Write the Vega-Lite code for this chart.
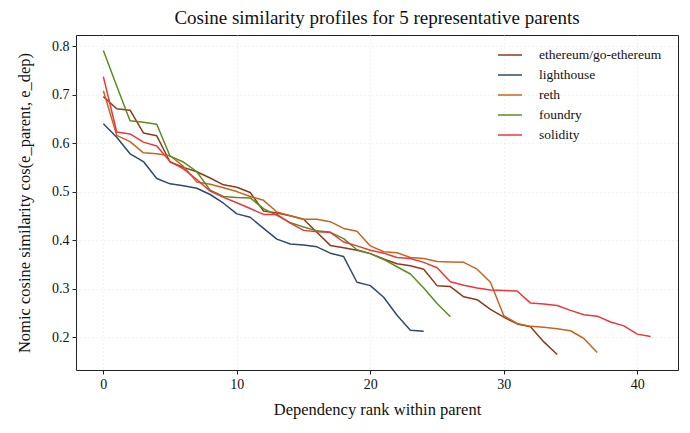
{
  "$schema": "https://vega.github.io/schema/vega-lite/v6.json",
  "width": 602,
  "height": 335,
  "autosize": "none",
  "padding": {"left": 76, "top": 35, "right": 12, "bottom": 63},
  "background": "white",
  "title": {
    "text": "Cosine similarity profiles for 5 representative parents",
    "font": "Liberation Serif",
    "fontSize": 19,
    "fontWeight": "normal",
    "color": "#111",
    "offset": 7
  },
  "datasets": {
    "profiles": [
      {"parent": "ethereum/go-ethereum", "rank": 0, "sim": 0.696},
      {"parent": "ethereum/go-ethereum", "rank": 1, "sim": 0.671},
      {"parent": "ethereum/go-ethereum", "rank": 2, "sim": 0.668},
      {"parent": "ethereum/go-ethereum", "rank": 3, "sim": 0.621},
      {"parent": "ethereum/go-ethereum", "rank": 4, "sim": 0.615},
      {"parent": "ethereum/go-ethereum", "rank": 5, "sim": 0.561},
      {"parent": "ethereum/go-ethereum", "rank": 6, "sim": 0.550},
      {"parent": "ethereum/go-ethereum", "rank": 7, "sim": 0.541},
      {"parent": "ethereum/go-ethereum", "rank": 8, "sim": 0.528},
      {"parent": "ethereum/go-ethereum", "rank": 9, "sim": 0.514},
      {"parent": "ethereum/go-ethereum", "rank": 10, "sim": 0.509},
      {"parent": "ethereum/go-ethereum", "rank": 11, "sim": 0.498},
      {"parent": "ethereum/go-ethereum", "rank": 12, "sim": 0.460},
      {"parent": "ethereum/go-ethereum", "rank": 13, "sim": 0.456},
      {"parent": "ethereum/go-ethereum", "rank": 14, "sim": 0.450},
      {"parent": "ethereum/go-ethereum", "rank": 15, "sim": 0.443},
      {"parent": "ethereum/go-ethereum", "rank": 16, "sim": 0.416},
      {"parent": "ethereum/go-ethereum", "rank": 17, "sim": 0.389},
      {"parent": "ethereum/go-ethereum", "rank": 18, "sim": 0.384},
      {"parent": "ethereum/go-ethereum", "rank": 19, "sim": 0.379},
      {"parent": "ethereum/go-ethereum", "rank": 20, "sim": 0.372},
      {"parent": "ethereum/go-ethereum", "rank": 21, "sim": 0.361},
      {"parent": "ethereum/go-ethereum", "rank": 22, "sim": 0.351},
      {"parent": "ethereum/go-ethereum", "rank": 23, "sim": 0.347},
      {"parent": "ethereum/go-ethereum", "rank": 24, "sim": 0.340},
      {"parent": "ethereum/go-ethereum", "rank": 25, "sim": 0.306},
      {"parent": "ethereum/go-ethereum", "rank": 26, "sim": 0.304},
      {"parent": "ethereum/go-ethereum", "rank": 27, "sim": 0.283},
      {"parent": "ethereum/go-ethereum", "rank": 28, "sim": 0.277},
      {"parent": "ethereum/go-ethereum", "rank": 29, "sim": 0.257},
      {"parent": "ethereum/go-ethereum", "rank": 30, "sim": 0.241},
      {"parent": "ethereum/go-ethereum", "rank": 31, "sim": 0.227},
      {"parent": "ethereum/go-ethereum", "rank": 32, "sim": 0.221},
      {"parent": "ethereum/go-ethereum", "rank": 33, "sim": 0.190},
      {"parent": "ethereum/go-ethereum", "rank": 34, "sim": 0.164},
      {"parent": "lighthouse", "rank": 0, "sim": 0.640},
      {"parent": "lighthouse", "rank": 1, "sim": 0.612},
      {"parent": "lighthouse", "rank": 2, "sim": 0.578},
      {"parent": "lighthouse", "rank": 3, "sim": 0.562},
      {"parent": "lighthouse", "rank": 4, "sim": 0.527},
      {"parent": "lighthouse", "rank": 5, "sim": 0.516},
      {"parent": "lighthouse", "rank": 6, "sim": 0.512},
      {"parent": "lighthouse", "rank": 7, "sim": 0.507},
      {"parent": "lighthouse", "rank": 8, "sim": 0.494},
      {"parent": "lighthouse", "rank": 9, "sim": 0.476},
      {"parent": "lighthouse", "rank": 10, "sim": 0.454},
      {"parent": "lighthouse", "rank": 11, "sim": 0.447},
      {"parent": "lighthouse", "rank": 12, "sim": 0.424},
      {"parent": "lighthouse", "rank": 13, "sim": 0.402},
      {"parent": "lighthouse", "rank": 14, "sim": 0.392},
      {"parent": "lighthouse", "rank": 15, "sim": 0.390},
      {"parent": "lighthouse", "rank": 16, "sim": 0.386},
      {"parent": "lighthouse", "rank": 17, "sim": 0.373},
      {"parent": "lighthouse", "rank": 18, "sim": 0.366},
      {"parent": "lighthouse", "rank": 19, "sim": 0.313},
      {"parent": "lighthouse", "rank": 20, "sim": 0.306},
      {"parent": "lighthouse", "rank": 21, "sim": 0.282},
      {"parent": "lighthouse", "rank": 22, "sim": 0.245},
      {"parent": "lighthouse", "rank": 23, "sim": 0.214},
      {"parent": "lighthouse", "rank": 24, "sim": 0.212},
      {"parent": "reth", "rank": 0, "sim": 0.708},
      {"parent": "reth", "rank": 1, "sim": 0.616},
      {"parent": "reth", "rank": 2, "sim": 0.603},
      {"parent": "reth", "rank": 3, "sim": 0.580},
      {"parent": "reth", "rank": 4, "sim": 0.578},
      {"parent": "reth", "rank": 5, "sim": 0.574},
      {"parent": "reth", "rank": 6, "sim": 0.552},
      {"parent": "reth", "rank": 7, "sim": 0.520},
      {"parent": "reth", "rank": 8, "sim": 0.515},
      {"parent": "reth", "rank": 9, "sim": 0.508},
      {"parent": "reth", "rank": 10, "sim": 0.500},
      {"parent": "reth", "rank": 11, "sim": 0.490},
      {"parent": "reth", "rank": 12, "sim": 0.482},
      {"parent": "reth", "rank": 13, "sim": 0.458},
      {"parent": "reth", "rank": 14, "sim": 0.450},
      {"parent": "reth", "rank": 15, "sim": 0.443},
      {"parent": "reth", "rank": 16, "sim": 0.443},
      {"parent": "reth", "rank": 17, "sim": 0.438},
      {"parent": "reth", "rank": 18, "sim": 0.424},
      {"parent": "reth", "rank": 19, "sim": 0.418},
      {"parent": "reth", "rank": 20, "sim": 0.388},
      {"parent": "reth", "rank": 21, "sim": 0.376},
      {"parent": "reth", "rank": 22, "sim": 0.374},
      {"parent": "reth", "rank": 23, "sim": 0.364},
      {"parent": "reth", "rank": 24, "sim": 0.362},
      {"parent": "reth", "rank": 25, "sim": 0.356},
      {"parent": "reth", "rank": 26, "sim": 0.355},
      {"parent": "reth", "rank": 27, "sim": 0.354},
      {"parent": "reth", "rank": 28, "sim": 0.340},
      {"parent": "reth", "rank": 29, "sim": 0.313},
      {"parent": "reth", "rank": 30, "sim": 0.244},
      {"parent": "reth", "rank": 31, "sim": 0.228},
      {"parent": "reth", "rank": 32, "sim": 0.222},
      {"parent": "reth", "rank": 33, "sim": 0.220},
      {"parent": "reth", "rank": 34, "sim": 0.217},
      {"parent": "reth", "rank": 35, "sim": 0.213},
      {"parent": "reth", "rank": 36, "sim": 0.197},
      {"parent": "reth", "rank": 37, "sim": 0.168},
      {"parent": "foundry", "rank": 0, "sim": 0.791},
      {"parent": "foundry", "rank": 1, "sim": 0.718},
      {"parent": "foundry", "rank": 2, "sim": 0.646},
      {"parent": "foundry", "rank": 3, "sim": 0.643},
      {"parent": "foundry", "rank": 4, "sim": 0.639},
      {"parent": "foundry", "rank": 5, "sim": 0.573},
      {"parent": "foundry", "rank": 6, "sim": 0.561},
      {"parent": "foundry", "rank": 7, "sim": 0.541},
      {"parent": "foundry", "rank": 8, "sim": 0.503},
      {"parent": "foundry", "rank": 9, "sim": 0.490},
      {"parent": "foundry", "rank": 10, "sim": 0.488},
      {"parent": "foundry", "rank": 11, "sim": 0.487},
      {"parent": "foundry", "rank": 12, "sim": 0.465},
      {"parent": "foundry", "rank": 13, "sim": 0.451},
      {"parent": "foundry", "rank": 14, "sim": 0.436},
      {"parent": "foundry", "rank": 15, "sim": 0.427},
      {"parent": "foundry", "rank": 16, "sim": 0.419},
      {"parent": "foundry", "rank": 17, "sim": 0.416},
      {"parent": "foundry", "rank": 18, "sim": 0.403},
      {"parent": "foundry", "rank": 19, "sim": 0.380},
      {"parent": "foundry", "rank": 20, "sim": 0.372},
      {"parent": "foundry", "rank": 21, "sim": 0.360},
      {"parent": "foundry", "rank": 22, "sim": 0.345},
      {"parent": "foundry", "rank": 23, "sim": 0.330},
      {"parent": "foundry", "rank": 24, "sim": 0.301},
      {"parent": "foundry", "rank": 25, "sim": 0.269},
      {"parent": "foundry", "rank": 26, "sim": 0.242},
      {"parent": "solidity", "rank": 0, "sim": 0.737},
      {"parent": "solidity", "rank": 1, "sim": 0.623},
      {"parent": "solidity", "rank": 2, "sim": 0.619},
      {"parent": "solidity", "rank": 3, "sim": 0.602},
      {"parent": "solidity", "rank": 4, "sim": 0.594},
      {"parent": "solidity", "rank": 5, "sim": 0.562},
      {"parent": "solidity", "rank": 6, "sim": 0.547},
      {"parent": "solidity", "rank": 7, "sim": 0.525},
      {"parent": "solidity", "rank": 8, "sim": 0.501},
      {"parent": "solidity", "rank": 9, "sim": 0.488},
      {"parent": "solidity", "rank": 10, "sim": 0.477},
      {"parent": "solidity", "rank": 11, "sim": 0.465},
      {"parent": "solidity", "rank": 12, "sim": 0.453},
      {"parent": "solidity", "rank": 13, "sim": 0.453},
      {"parent": "solidity", "rank": 14, "sim": 0.435},
      {"parent": "solidity", "rank": 15, "sim": 0.420},
      {"parent": "solidity", "rank": 16, "sim": 0.417},
      {"parent": "solidity", "rank": 17, "sim": 0.416},
      {"parent": "solidity", "rank": 18, "sim": 0.396},
      {"parent": "solidity", "rank": 19, "sim": 0.388},
      {"parent": "solidity", "rank": 20, "sim": 0.379},
      {"parent": "solidity", "rank": 21, "sim": 0.373},
      {"parent": "solidity", "rank": 22, "sim": 0.364},
      {"parent": "solidity", "rank": 23, "sim": 0.362},
      {"parent": "solidity", "rank": 24, "sim": 0.354},
      {"parent": "solidity", "rank": 25, "sim": 0.343},
      {"parent": "solidity", "rank": 26, "sim": 0.314},
      {"parent": "solidity", "rank": 27, "sim": 0.307},
      {"parent": "solidity", "rank": 28, "sim": 0.301},
      {"parent": "solidity", "rank": 29, "sim": 0.297},
      {"parent": "solidity", "rank": 30, "sim": 0.296},
      {"parent": "solidity", "rank": 31, "sim": 0.295},
      {"parent": "solidity", "rank": 32, "sim": 0.270},
      {"parent": "solidity", "rank": 33, "sim": 0.268},
      {"parent": "solidity", "rank": 34, "sim": 0.265},
      {"parent": "solidity", "rank": 35, "sim": 0.255},
      {"parent": "solidity", "rank": 36, "sim": 0.246},
      {"parent": "solidity", "rank": 37, "sim": 0.243},
      {"parent": "solidity", "rank": 38, "sim": 0.231},
      {"parent": "solidity", "rank": 39, "sim": 0.223},
      {"parent": "solidity", "rank": 40, "sim": 0.206},
      {"parent": "solidity", "rank": 41, "sim": 0.201}
    ]
  },
  "data": {"name": "profiles"},
  "mark": {"type": "line", "strokeWidth": 1.5, "strokeJoin": "round"},
  "encoding": {
    "x": {
      "field": "rank",
      "type": "quantitative",
      "title": "Dependency rank within parent",
      "scale": {"domain": [-2.05, 43.05], "nice": false, "zero": false},
      "axis": {"values": [0, 10, 20, 30, 40], "titlePadding": 10}
    },
    "y": {
      "field": "sim",
      "type": "quantitative",
      "title": "Nomic cosine similarity cos(e_parent, e_dep)",
      "scale": {"domain": [0.132, 0.823], "nice": false, "zero": false},
      "axis": {"values": [0.2, 0.3, 0.4, 0.5, 0.6, 0.7, 0.8], "format": ".1f", "titlePadding": 19}
    },
    "color": {
      "field": "parent",
      "type": "nominal",
      "title": null,
      "scale": {
        "domain": ["ethereum/go-ethereum", "lighthouse", "reth", "foundry", "solidity"],
        "range": ["#8b3a1f", "#2e4a6c", "#c8651b", "#5e8c1f", "#e8383d"]
      },
      "legend": {
        "orient": "none",
        "legendX": 421,
        "legendY": 7,
        "symbolType": "stroke",
        "symbolSize": 576,
        "symbolStrokeWidth": 1.5,
        "labelFont": "Liberation Serif",
        "labelFontSize": 13.5,
        "labelColor": "#111",
        "rowPadding": -4.7,
        "labelOffset": 16
      }
    },
    "order": {"field": "rank", "type": "quantitative"}
  },
  "config": {
    "font": "Liberation Serif",
    "view": {"stroke": "#222", "strokeWidth": 1},
    "legend": {"labelFont": "Liberation Serif"},
    "axis": {
      "domain": false,
      "grid": true,
      "gridColor": "#dddddd",
      "gridDash": [1, 3],
      "gridWidth": 0.8,
      "ticks": true,
      "tickColor": "#222",
      "tickSize": 4,
      "labelFont": "Liberation Serif",
      "labelFontSize": 14,
      "labelColor": "#111",
      "labelPadding": 3,
      "titleFont": "Liberation Serif",
      "titleFontSize": 16.5,
      "titleFontWeight": "normal",
      "titleColor": "#111"
    }
  }
}
